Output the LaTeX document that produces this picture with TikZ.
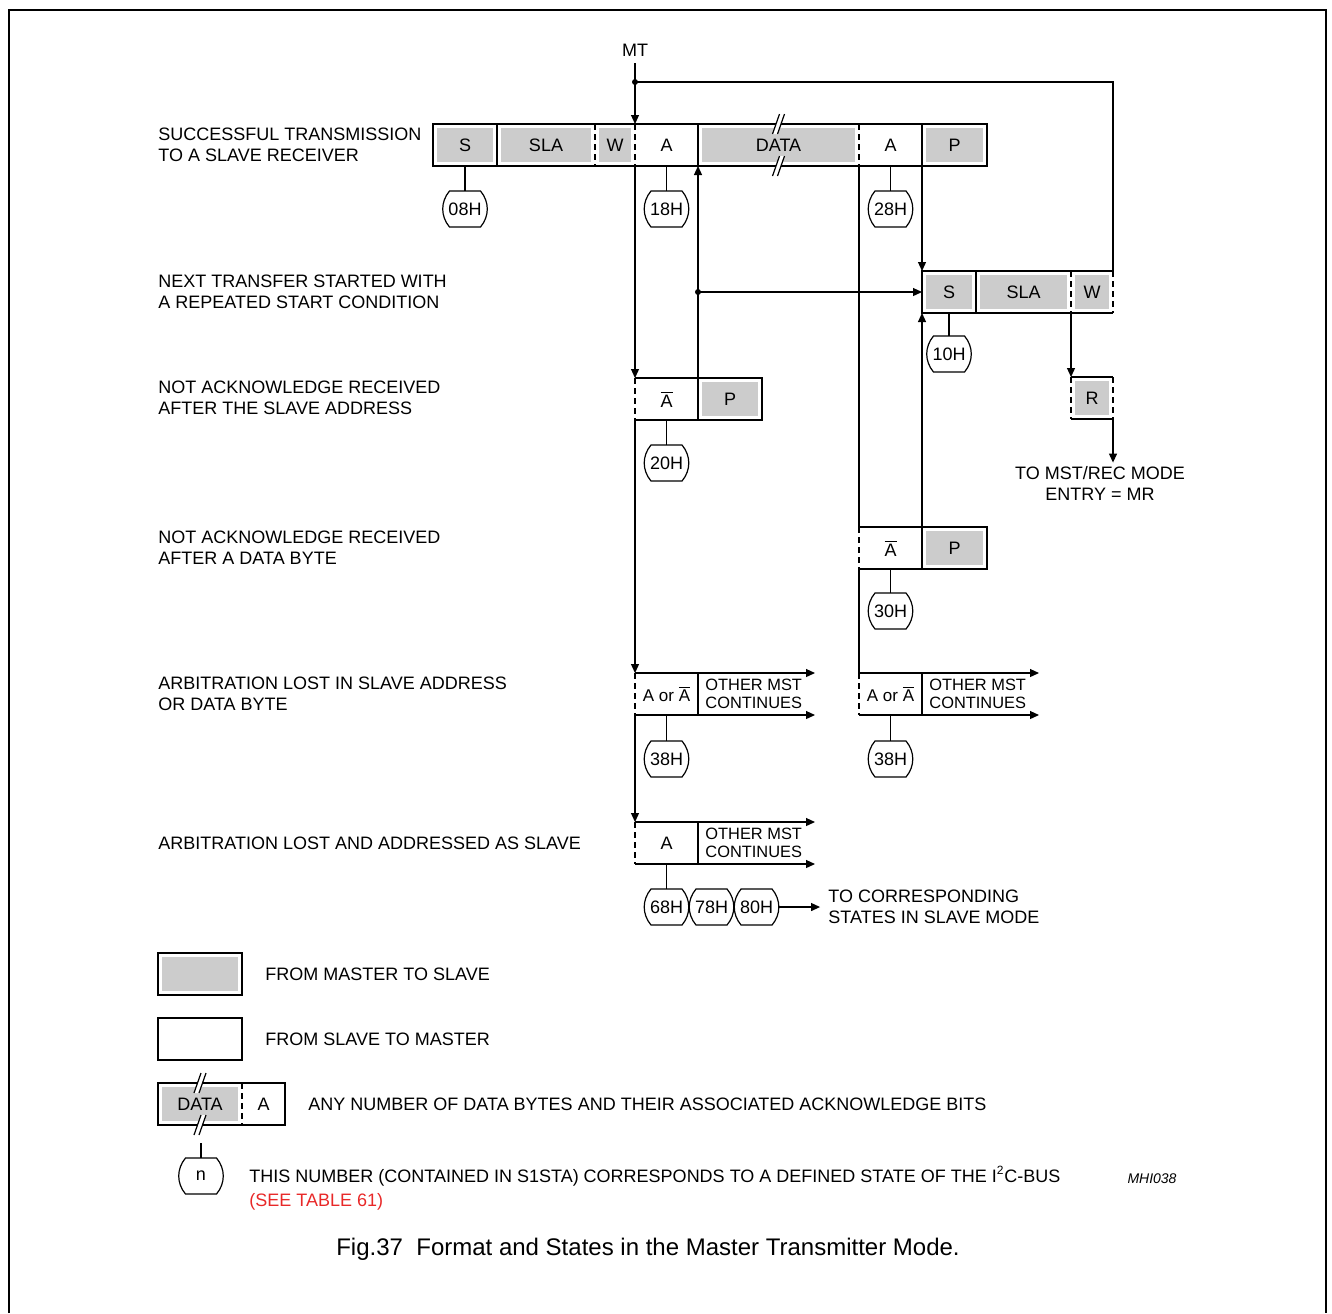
\documentclass[tikz,border=0pt]{standalone}
\usepackage{fontspec}
\setmainfont{Liberation Sans}
\usetikzlibrary{arrows.meta, positioning}
\definecolor{seered}{RGB}{232,40,40}

\begin{document}
\begin{tikzpicture}[x=0.5pt, y=-0.5pt, font=\fontsize{9}{10.5}\selectfont,
    fld/.style = {minimum width=#1, minimum height=21pt, inner sep=0pt, outer sep=0pt},
    m2s/.style = {path picture={\fill[gray!40] ([shift={(1.8pt,-1.8pt)}]path picture bounding box.north west) rectangle ([shift={(-1.8pt,1.8pt)}]path picture bounding box.south east);}},
    stnode/.style = {rectangle, minimum width=15.5pt, minimum height=18pt, inner xsep=-0.5pt, inner ysep=0pt, outer sep=0pt,
      append after command={\pgfextra{\draw[line width=0.6pt] (\tikzlastnode.north west) -- (\tikzlastnode.north east) to[out=-50,in=50] (\tikzlastnode.south east) -- (\tikzlastnode.south west) to[out=130,in=230] cycle;}}},
    boxline/.style = {line width=1pt},
    dsh/.style = {line width=1pt, dash pattern=on 3pt off 2pt},
    conn/.style = {line width=0.6pt},
    arr/.style = {conn, -{Triangle[length=4.5pt,width=4pt]}},
    lbl/.style = {anchor=west, align=left, inner sep=0pt},
    small/.style = {font=\fontsize{8.2}{9}\selectfont},
  ]
  \useasboundingbox (0,0) rectangle (1332,1313);
  \draw[boxline] (9,1313) -- (9,10) -- (1326,10) -- (1326,1313);

  % row labels
  \node[lbl] (t1) at (158,145) {SUCCESSFUL TRANSMISSION\\TO A SLAVE RECEIVER};
  \node[lbl] (t2) at (158,292) {NEXT TRANSFER STARTED WITH\\A REPEATED START CONDITION};
  \node[lbl] (t3) at (158,398) {NOT ACKNOWLEDGE RECEIVED\\AFTER THE SLAVE ADDRESS};
  \node[lbl] (t4) at (158,548) {NOT ACKNOWLEDGE RECEIVED\\AFTER A DATA BYTE};
  \node[lbl] (t5) at (158,694) {ARBITRATION LOST IN SLAVE ADDRESS\\OR DATA BYTE};
  \node[lbl] (t6) at (158,843) {ARBITRATION LOST AND ADDRESSED AS SLAVE};

  % successful transmission
  \node[fld=32pt, m2s] (s1) at (465,145) {S};
  \node[fld=49pt, m2s, right=0pt of s1] (sla1) {SLA};
  \node[fld=20pt, m2s, right=0pt of sla1] (w1) {W};
  \node[fld=31.5pt, right=0pt of w1] (a1) {A};
  \node[fld=80.5pt, m2s, right=0pt of a1] (d1) {DATA};
  \node[fld=31.5pt, right=0pt of d1] (a2) {A};
  \node[fld=32.5pt, m2s, right=0pt of a2] (p1) {P};
  \draw[boxline] (s1.north west) rectangle (p1.south east);
  \foreach \n in {s1,a1,a2} \draw[boxline] (\n.north east) -- (\n.south east);
  \foreach \n in {sla1,w1,d1} \draw[dsh] (\n.north east) -- (\n.south east);

  % repeated start
  \node[fld=27pt, m2s] (s2) at (949,292) {S};
  \node[fld=47.5pt, m2s, right=0pt of s2] (sla2) {SLA};
  \node[fld=21pt, m2s, right=0pt of sla2] (w2) {W};
  \draw[boxline] (w2.north east) -- (s2.north west) -- (s2.south west) -- (w2.south east);
  \draw[boxline] (s2.north east) -- (s2.south east);
  \draw[dsh] (sla2.north east) -- (sla2.south east);
  \draw[dsh] (w2.north east) -- (w2.south east);
  \node[fld=21pt, m2s, below=32pt of w2] (r2) {R};
  \draw[boxline] (r2.north west) -- (r2.north east) (r2.south west) -- (r2.south east);
  \draw[dsh] (r2.north west) -- (r2.south west) (r2.north east) -- (r2.south east);
  \node[inner sep=1.5pt, align=center] (mr) at (1100,483) {TO MST/REC MODE\\ENTRY = MR};

  % not acknowledge after address
  \node[fld=31.5pt] (na3) at (666.5,399) {$\overline{\hbox{A}}$};
  \node[fld=32pt, m2s, right=0pt of na3] (p3) {P};
  % not acknowledge after data
  \node[fld=31.5pt] (na4) at (890.5,548) {$\overline{\hbox{A}}$};
  \node[fld=32.5pt, m2s, right=0pt of na4] (p4) {P};
  \foreach \a/\p in {na3/p3, na4/p4} {
    \draw[boxline] (\a.north west) -- (\p.north east) -- (\p.south east) -- (\a.south west);
    \draw[boxline] (\a.north east) -- (\a.south east);
    \draw[dsh] (\a.north west) -- (\a.south west);
  }

  % arbitration lost
  \node[fld=31.5pt, font=\fontsize{8.5}{10}\selectfont] (ao5) at (666.5,694) {A or $\overline{\hbox{A}}$};
  \node[fld=31.5pt, font=\fontsize{8.5}{10}\selectfont] (ao5b) at (890.5,694) {A or $\overline{\hbox{A}}$};
  \node[fld=31.5pt] (a6) at (666.5,843) {A};
  \foreach \a in {ao5, ao5b, a6} {
    \draw[boxline] (\a.north west) -- (\a.north east) -- (\a.south east) -- (\a.south west);
    \draw[dsh] (\a.north west) -- (\a.south west);
    \coordinate[right=58.5pt of \a.north east] (\a-ot);
    \coordinate[right=58.5pt of \a.south east] (\a-ob);
    \draw[arr] (\a.north east) -- (\a-ot);
    \draw[arr] (\a.south east) -- (\a-ob);
    \node[lbl, small, right=3.5pt of \a] {OTHER MST\\CONTINUES};
  }

  % states
  \node[stnode, below=12.5pt of s1] (st08) {08H};
  \node[stnode, below=12.5pt of a1] (st18) {18H};
  \node[stnode, below=12.5pt of a2] (st28) {28H};
  \node[stnode, below=11.5pt of s2] (st10) {10H};
  \node[stnode, below=12.5pt of na3] (st20) {20H};
  \node[stnode, below=12pt of na4] (st30) {30H};
  \node[stnode, below=13pt of ao5] (st38) {38H};
  \node[stnode, below=13pt of ao5b] (st38b) {38H};
  \node[stnode, below=12.5pt of a6] (st68) {68H};
  \node[stnode, right=7pt of st68] (st78) {78H};
  \node[stnode, right=7pt of st78] (st80) {80H};
  \foreach \b/\s in {s1/st08, a1/st18, a2/st28, s2/st10, na3/st20, na4/st30, ao5/st38, ao5b/st38b, a6/st68}
    \draw[conn] (\b) -- (\s);
  \node[align=left, inner sep=4pt, right=24pt of st80] (slv) {TO CORRESPONDING\\STATES IN SLAVE MODE};
  \draw[arr] ([xshift=3.25pt]st80.east) -- (slv);

  % flow lines
  \node (mt) at (635,50) {MT};
  \coordinate (j1) at (635,82);
  \draw[conn] (mt) -- (j1);
  \draw[arr] (j1) -- (a1.north west);
  \draw[conn] (j1) -| (w2.north east);
  \fill (j1) circle (1.5pt);
  \draw[arr] (a1.south west) -- (na3.north west);
  \draw[arr] (na3.south west) -- (ao5.north west);
  \draw[arr] (ao5.south west) -- (a6.north west);
  \draw[arr] (na3.north east) -- (a1.south east);
  \coordinate (j2) at (na3.north east |- s2.west);
  \draw[arr] (j2) -- (s2.west);
  \fill (j2) circle (1.5pt);
  \draw[conn] (a2.south west) -- (na4.north west);
  \draw[conn] (na4.south west) -- (ao5b.north west);
  \draw[arr] (a2.south east) -- (s2.north west);
  \draw[arr] (na4.north east) -- (s2.south west);
  \draw[arr] (w2.south west) -- (r2.north west);
  \draw[arr] (r2.south east) -- (r2.south east |- mr.north);

  % legend
  \node[fld=42pt, m2s] (lgm) at (200,974) {};
  \node[fld=42pt] (lgs) at (200,1039) {};
  \node[fld=42pt, m2s] (lgd) at (200,1104) {DATA};
  \node[fld=21.5pt, right=0pt of lgd] (lga) {A};
  \draw[boxline] (lgm.north west) rectangle (lgm.south east);
  \draw[boxline] (lgs.north west) rectangle (lgs.south east);
  \draw[boxline] (lgd.north west) rectangle (lga.south east);
  \draw[dsh] (lgd.north east) -- (lgd.south east);
  \node[lbl, right=11.5pt of lgm] (lgmtxt) {FROM MASTER TO SLAVE};
  \node[lbl, right=11.5pt of lgs] (lgstxt) {FROM SLAVE TO MASTER};
  \node[lbl, right=11.5pt of lga] (lgdtxt) {ANY NUMBER OF DATA BYTES AND THEIR ASSOCIATED ACKNOWLEDGE BITS};
  \node[stnode] (stn) at (201,1176) {n};
  \coordinate (ntop) at (201,1143);
  \draw[conn] (ntop) -- (stn);
  \node[lbl, anchor=base west] (ntxt) at (249,1182) {THIS NUMBER (CONTAINED IN S1STA) CORRESPONDS TO A DEFINED STATE OF THE I\textsuperscript{2}C-BUS};
  \node[lbl, anchor=base west, text=seered] (seetxt) at (249,1206) {(SEE TABLE 61)};

  % break marks on the data fields
  \foreach \p in {d1.north, d1.south, lgd.north, lgd.south} {
    \fill[white] ([shift={(-3pt,-5pt)}]\p) -- ([shift={(0.5pt,5pt)}]\p) -- ([shift={(3pt,5pt)}]\p) -- ([shift={(-0.5pt,-5pt)}]\p) -- cycle;
    \draw[conn] ([shift={(-3pt,-5pt)}]\p) -- ([shift={(0.5pt,5pt)}]\p);
    \draw[conn] ([shift={(-0.5pt,-5pt)}]\p) -- ([shift={(3pt,5pt)}]\p);
  }

  \node[font=\fontsize{7}{8}\selectfont\itshape] (code) at (1152,1179) {MHI038};
  \node[font=\fontsize{12}{14}\selectfont] (cap) at (648,1249) {Fig.37~~Format and States in the Master Transmitter Mode.};
\end{tikzpicture}
\end{document}
